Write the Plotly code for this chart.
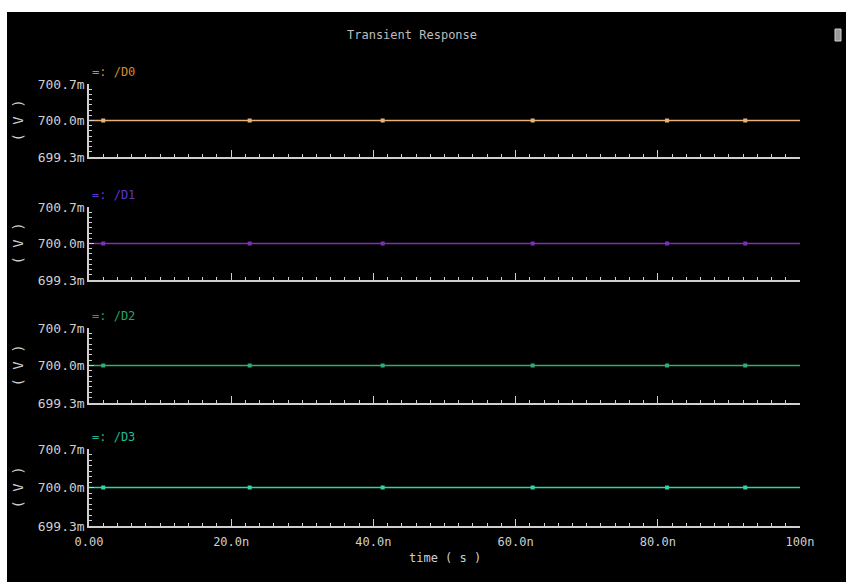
import plotly.graph_objects as go

# ---- data ----
time_ns = [0, 100]
signals = ["/D0", "/D1", "/D2", "/D3"]
D0 = [0.700, 0.700]
D1 = [0.700, 0.700]
D2 = [0.700, 0.700]
D3 = [0.700, 0.700]
series_values = [D0, D1, D2, D3]
marker_times_ns = [2.0, 22.6, 41.3, 62.4, 81.3, 92.3]
x_tick_vals = [0, 20, 40, 60, 80, 100]
x_tick_text = ["0.00", "20.0n", "40.0n", "60.0n", "80.0n", "100n"]
y_tick_vals = [0.6993, 0.7000, 0.7007]
y_tick_text = ["699.3m", "700.0m", "700.7m"]

line_colors = ["#e9b27a", "#7b30b8", "#2fae74", "#33d3a6"]
label_colors = ["#d48a2a", "#5e36c8", "#22a466", "#22b894"]

W, H = 846, 582
# panel pixel extents (top, bottom)
panels_px = [(84, 157), (207, 280), (328, 403), (449, 526)]
x0_px, x1_px = 89, 800

fg = "#cfcfcf"
font_family = "DejaVu Sans Mono"

fig = go.Figure()
annotations = []
for i, (name, vals) in enumerate(zip(signals, series_values)):
    n = i + 1
    xa = "x" if n == 1 else f"x{n}"
    ya = "y" if n == 1 else f"y{n}"
    fig.add_trace(go.Scatter(
        x=time_ns, y=vals, mode="lines", xaxis=xa, yaxis=ya,
        line=dict(color=line_colors[i], width=1.6), showlegend=False,
        hoverinfo="skip"))
    fig.add_trace(go.Scatter(
        x=marker_times_ns, y=[vals[0]] * len(marker_times_ns), mode="markers",
        xaxis=xa, yaxis=ya,
        marker=dict(color=line_colors[i], size=4, symbol="square"),
        showlegend=False, hoverinfo="skip"))
    top, bot = panels_px[i]
    dom = [1 - bot / H, 1 - top / H]
    last = (n == 4)
    fig.layout[f"xaxis{'' if n == 1 else n}"] = dict(
        domain=[x0_px / W, x1_px / W], range=[0, 100], anchor=ya, automargin=False,
        showline=True, linecolor=fg, linewidth=1.5, showgrid=False, zeroline=False,
        tickvals=x_tick_vals, ticktext=x_tick_text, showticklabels=last,
        ticks="inside", ticklen=7, tickwidth=1.3, tickcolor=fg, ticklabelstandoff=4,
        minor=dict(dtick=2, ticks="inside", ticklen=3, tickcolor=fg, tickwidth=1),
        tickfont=dict(family=font_family, size=12, color=fg))
    fig.layout[f"yaxis{'' if n == 1 else n}"] = dict(
        domain=dom, range=[0.6993, 0.7007], anchor=xa, automargin=False,
        showline=True, linecolor=fg, linewidth=1.5, showgrid=False, zeroline=False,
        tickvals=y_tick_vals, ticktext=y_tick_text,
        ticks="inside", ticklen=5, tickwidth=1.3, tickcolor=fg,
        minor=dict(dtick=0.0001, ticks="inside", ticklen=3, tickcolor=fg, tickwidth=1),
        tickfont=dict(family=font_family, size=13, color=fg))
    # legend label
    annotations.append(dict(
        x=90 / W, y=1 - (top - 12) / H, xref="paper", yref="paper",
        xanchor="left", yanchor="middle", showarrow=False,
        text="=: " + name, font=dict(family=font_family, size=12, color=label_colors[i])))
    # y title
    annotations.append(dict(
        x=17 / W, y=1 - ((top + bot) / 2) / H, xref="paper", yref="paper",
        xanchor="center", yanchor="middle", showarrow=False, textangle=-90,
        text="( V )", font=dict(family=font_family, size=14, color=fg)))

annotations.append(dict(
    x=412 / W, y=1 - 35 / H, xref="paper", yref="paper", showarrow=False,
    xanchor="center", yanchor="middle", text="Transient Response",
    font=dict(family=font_family, size=12, color="#bdbdbd")))
annotations.append(dict(
    x=445 / W, y=1 - 558 / H, xref="paper", yref="paper", showarrow=False,
    xanchor="center", yanchor="middle", text="time ( s )",
    font=dict(family=font_family, size=12, color=fg)))

shapes = [
    dict(type="rect", xref="paper", yref="paper", x0=0, x1=1, y0=1 - 12 / H, y1=1,
         fillcolor="white", line=dict(width=0), layer="above"),
    dict(type="rect", xref="paper", yref="paper", x0=0, x1=7 / W, y0=0, y1=1,
         fillcolor="white", line=dict(width=0), layer="above"),
    dict(type="rect", xref="paper", yref="paper", x0=835 / W, x1=841 / W,
         y0=1 - 41 / H, y1=1 - 29 / H, fillcolor="#9a9a9a",
         line=dict(color="#d0d0d0", width=1), layer="above"),
]

fig.update_layout(
    width=W, height=H, margin=dict(l=0, r=0, t=0, b=0, autoexpand=False),
    paper_bgcolor="black", plot_bgcolor="black",
    annotations=annotations, shapes=shapes, showlegend=False,
    font=dict(family=font_family, color=fg))

fig.write_html(
    "out.html",
    post_script="document.body.style.margin='0px';document.body.style.overflow='hidden';")
